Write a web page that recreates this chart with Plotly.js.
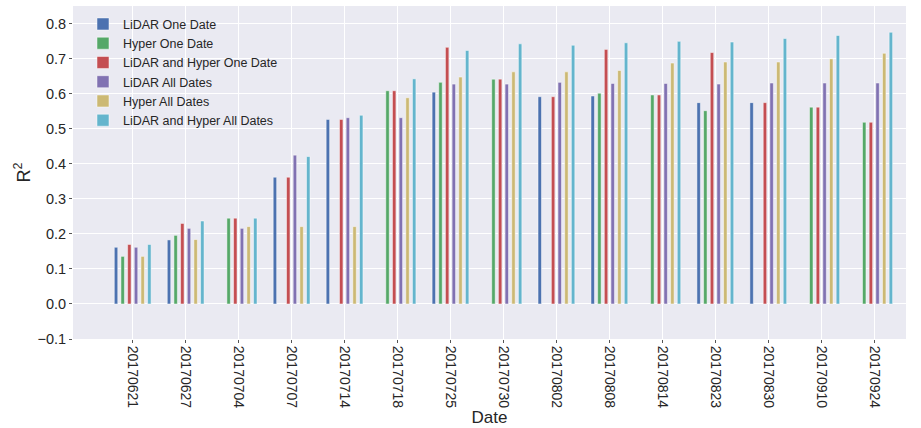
<!DOCTYPE html>
<html>
<head>
<meta charset="utf-8">
<script src="https://cdn.plot.ly/plotly-3.0.1.min.js"></script>
<style>html,body{margin:0;padding:0;background:#fff;}#chart{width:921px;height:428px;}</style>
</head>
<body>
<div id="chart"></div>
<script>
const dates = ["20170621","20170627","20170704","20170707","20170714","20170718","20170725","20170730","20170802","20170808","20170814","20170823","20170830","20170910","20170924"];
const lidarOne      = [0.162, 0.183, null, 0.362, 0.527, null, 0.605, null, 0.592, 0.594, null, 0.575, 0.575, null, null];
const hyperOne      = [0.136, 0.196, 0.245, null, null, 0.609, 0.633, 0.642, null, 0.602, 0.597, 0.552, null, 0.562, 0.519];
const lidarHyperOne = [0.170, 0.230, 0.245, 0.362, 0.527, 0.609, 0.733, 0.642, 0.592, 0.727, 0.597, 0.718, 0.575, 0.562, 0.519];
const lidarAll      = [0.162, 0.216, 0.216, 0.425, 0.532, 0.532, 0.628, 0.628, 0.633, 0.630, 0.630, 0.628, 0.631, 0.631, 0.631];
const hyperAll      = [0.136, 0.184, 0.221, 0.221, 0.221, 0.589, 0.648, 0.663, 0.663, 0.667, 0.688, 0.691, 0.691, 0.700, 0.716];
const lidarHyperAll = [0.170, 0.237, 0.245, 0.421, 0.539, 0.643, 0.724, 0.743, 0.739, 0.746, 0.750, 0.748, 0.758, 0.767, 0.776];

const seriesNames = ["LiDAR One Date","Hyper One Date","LiDAR and Hyper One Date","LiDAR All Dates","Hyper All Dates","LiDAR and Hyper All Dates"];
const seriesValues = [lidarOne, hyperOne, lidarHyperOne, lidarAll, hyperAll, lidarHyperAll];
const colors = ["#4C72B0","#55A868","#C44E52","#8172B2","#CCB974","#64B5CD"];

const traces = seriesNames.map((n, i) => ({
  type: "bar",
  name: n,
  x: dates,
  y: seriesValues[i],
  marker: {color: colors[i], line: {color: "rgba(255,255,255,0.8)", width: 0.6}},
  hoverinfo: "x+y+name"
}));

const font = "Liberation Sans, Arial, sans-serif";
const layout = {
  width: 921, height: 428,
  margin: {l: 73, r: 15, t: 6, b: 89},
  paper_bgcolor: "#ffffff",
  plot_bgcolor: "#EAEAF2",
  barmode: "group",
  bargap: 0.245,
  bargroupgap: 0.48,
  font: {family: font, color: "#262626"},
  showlegend: true,
  legend: {
    x: 0.012, y: 0.99, xanchor: "left", yanchor: "top",
    bgcolor: "rgba(0,0,0,0)",
    font: {family: font, size: 12.5, color: "#262626"},
    tracegroupgap: 0
  },
  xaxis: {
    type: "category",
    range: [-1.127, 14.6],
    tickangle: 90,
    tickfont: {family: font, size: 14, color: "#262626"},
    showgrid: true, gridcolor: "#ffffff", gridwidth: 1,
    ticks: "outside", ticklen: 3, tickcolor: "#555",
    zeroline: false, showline: false,
    title: {text: "Date", font: {family: font, size: 17, color: "#262626"}, standoff: 0}
  },
  yaxis: {
    range: [-0.1, 0.851],
    dtick: 0.1, tick0: 0,
    tickformat: ".1f",
    tickfont: {family: font, size: 14.5, color: "#262626"},
    showgrid: true, gridcolor: "#ffffff", gridwidth: 1,
    ticks: "outside", ticklen: 3, tickcolor: "#555",
    zeroline: false, showline: false,
    title: {text: "R<sup>2</sup>", font: {family: font, size: 18, color: "#262626"}, standoff: 2}
  }
};

Plotly.newPlot("chart", traces, layout, {displayModeBar: false, staticPlot: true});
</script>
</body>
</html>
